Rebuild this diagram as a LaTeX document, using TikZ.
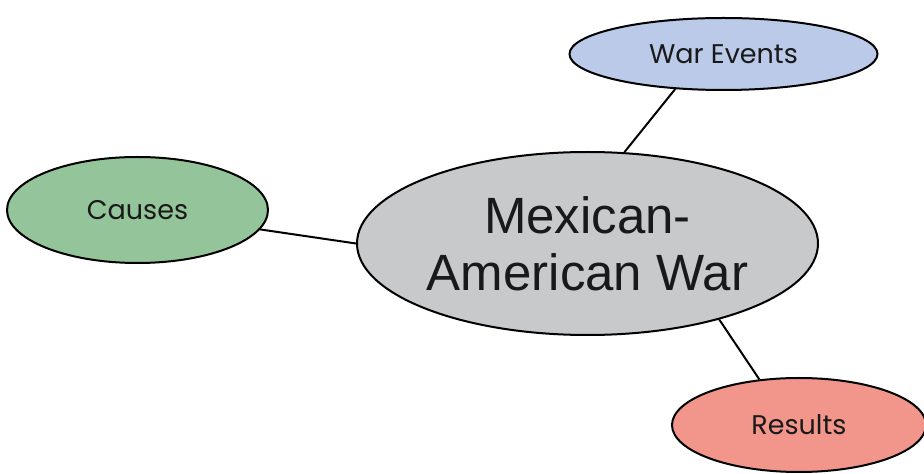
\documentclass[tikz,border=0pt]{standalone}
\usepackage{fontspec}
\setmainfont{Poppins}
\newfontfamily\centrefont{Liberation Sans}
\usetikzlibrary{shapes.geometric}

\definecolor{eventsblue}{RGB}{186,202,232}
\definecolor{causesgreen}{RGB}{148,196,153}
\definecolor{resultsred}{RGB}{242,150,140}
\definecolor{maingray}{RGB}{200,201,203}

\begin{document}
\begin{tikzpicture}[x=1pt,y=1pt,
        bubble/.style={ellipse, draw=black, line width=2pt, inner sep=0pt, text=black!90},
        link/.style={line width=2pt}]
            \useasboundingbox (0,0) rectangle (924,474);
            % centre and the three branches
            \node[bubble, fill=maingray, minimum width=461pt, minimum height=183pt,
                  align=center, font=\centrefont\fontsize{51}{57}\selectfont] (main) at (587.5,230.5) {Mexican-\\American War};
            \node[bubble, fill=eventsblue, minimum width=308pt, minimum height=72pt,
                  font=\fontsize{27}{32}\selectfont] (events) at (723.5,420) {War Events};
            \node[bubble, fill=causesgreen, minimum width=261pt, minimum height=106pt,
                  font=\fontsize{27}{32}\selectfont] (causes) at (137.5,264) {Causes};
            \node[bubble, fill=resultsred, minimum width=254pt, minimum height=94pt,
                  font=\fontsize{27}{32}\selectfont] (results) at (799,49) {Results};
            % connectors
            \draw[link] (main.68.6) -- (events.216.2);
            \draw[link] (main.180) -- (causes.351.3);
            \draw[link] (main.330.7) -- (results.131.6);
        \end{tikzpicture}
\end{document}
